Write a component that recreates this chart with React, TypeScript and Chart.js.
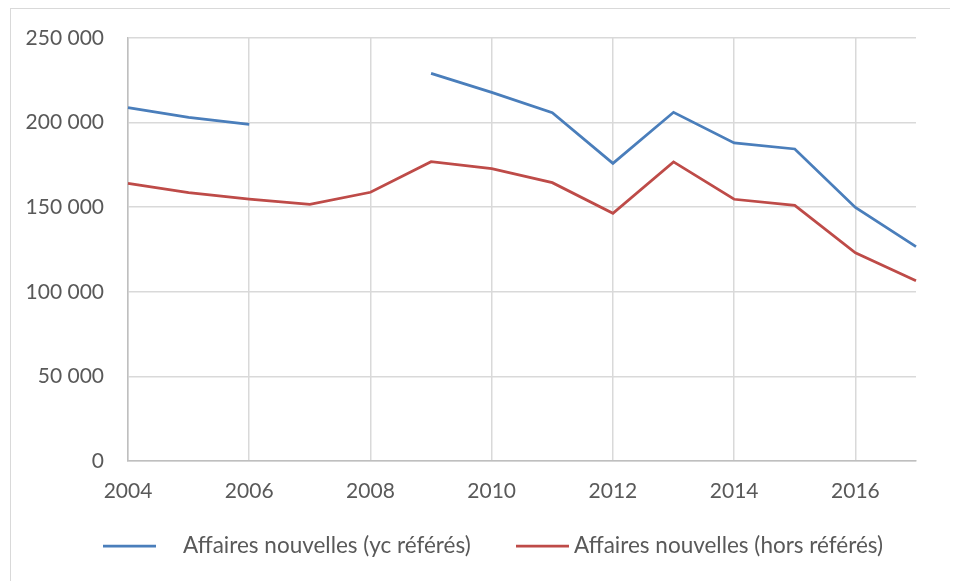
import React, { useEffect, useRef } from 'react';
import { Chart, registerables } from 'chart.js';

Chart.register(...registerables);

const years = ['2004', '2005', '2006', '2007', '2008', '2009', '2010', '2011', '2012', '2013', '2014', '2015', '2016', '2017'];
const labelledYears = ['2004', '2006', '2008', '2010', '2012', '2014', '2016'];
const seriesNames = ['Affaires nouvelles (yc référés)', 'Affaires nouvelles (hors référés)'];
const ycReferes = [208800, 203100, 199000, null, null, 229100, 217900, 205900, 175900, 206100, 188000, 184400, 149900, 126700];
const horsReferes = [164100, 158600, 154800, 151700, 158800, 176900, 172800, 164500, 146400, 176800, 154700, 151100, 123100, 106600];
const yMin = 0;
const yMax = 250000;
const yStep = 50000;

const FONT = 'Lato';
const TEXT = '#595959';

const formatThousands = (v: number) => {
  const s = Math.round(v).toString();
  return s.replace(/\B(?=(\d{3})+(?!\d))/g, ' ');
};

const lineLegend = {
  id: 'lineLegend',
  afterDraw(chart: any) {
    const ctx = chart.ctx;
    const slots = [
      { lineX: 92, textX: 172 },
      { lineX: 505, textX: 563 },
    ];
    ctx.save();
    chart.data.datasets.forEach((ds: any, i: number) => {
      const s = slots[i];
      ctx.strokeStyle = ds.borderColor;
      ctx.lineWidth = 2.75;
      ctx.beginPath();
      ctx.moveTo(s.lineX, 537);
      ctx.lineTo(s.lineX + 53, 537);
      ctx.stroke();
      ctx.font = `22.5px ${FONT}`;
      ctx.fillStyle = TEXT;
      ctx.textBaseline = 'alphabetic';
      ctx.textAlign = 'left';
      ctx.fillText(ds.label, s.textX, 544);
    });
    ctx.restore();
  },
};

export default function App() {
  const ref = useRef<HTMLCanvasElement | null>(null);

  useEffect(() => {
    if (!ref.current) return;
    const chart = new Chart(ref.current, {
      type: 'line',
      data: {
        labels: years,
        datasets: [
          {
            label: seriesNames[0],
            data: ycReferes,
            borderColor: '#4A7EBB',
            backgroundColor: '#4A7EBB',
            borderWidth: 2.75,
            pointRadius: 0,
            tension: 0,
            spanGaps: false,
          },
          {
            label: seriesNames[1],
            data: horsReferes,
            borderColor: '#BE4B48',
            backgroundColor: '#BE4B48',
            borderWidth: 2.75,
            pointRadius: 0,
            tension: 0,
            spanGaps: false,
          },
        ],
      },
      plugins: [lineLegend],
      options: {
        animation: false,
        responsive: false,
        maintainAspectRatio: false,
        layout: { padding: { left: 0, top: 29, right: 34, bottom: 60 } },
        plugins: {
          legend: { display: false },
          tooltip: { enabled: false },
        },
        scales: {
          x: {
            type: 'category',
            offset: false,
            grid: {
              color: (c: any) => (c.tick && labelledYears.includes(years[c.index]) ? '#D9D9D9' : 'rgba(0,0,0,0)'),
              lineWidth: 1.5,
              drawTicks: false,
            },
            border: { color: '#BFBFBF', width: 1.5 },
            ticks: {
              autoSkip: false,
              maxRotation: 0,
              padding: 18,
              color: TEXT,
              font: { family: FONT, size: 21 },
              callback: (_v: any, i: number) => (labelledYears.includes(years[i]) ? years[i] : ''),
            },
            afterFit: (s: any) => {
              s.height = 60;
            },
          },
          y: {
            min: yMin,
            max: yMax,
            grid: { color: '#D9D9D9', lineWidth: 1.5, drawTicks: false },
            border: { color: '#BFBFBF', width: 1.5 },
            ticks: {
              stepSize: yStep,
              padding: 24,
              color: TEXT,
              font: { family: FONT, size: 21 },
              callback: (v: any) => formatThousands(Number(v)),
            },
            afterFit: (s: any) => {
              s.width = 117;
              s.paddingTop = 0;
              s.paddingBottom = 0;
            },
          },
        },
      },
    });
    return () => chart.destroy();
  }, []);

  return (
    <div
      style={{
        width: 940,
        height: 573,
        marginLeft: 2,
        borderTop: '1px solid #D9D9D9',
        borderLeft: '1px solid #D9D9D9',
        boxSizing: 'border-box',
        overflow: 'hidden',
      }}
    >
      <canvas ref={ref} width={939} height={572} style={{ display: 'block', width: 939, height: 572 }} />
    </div>
  );
}
